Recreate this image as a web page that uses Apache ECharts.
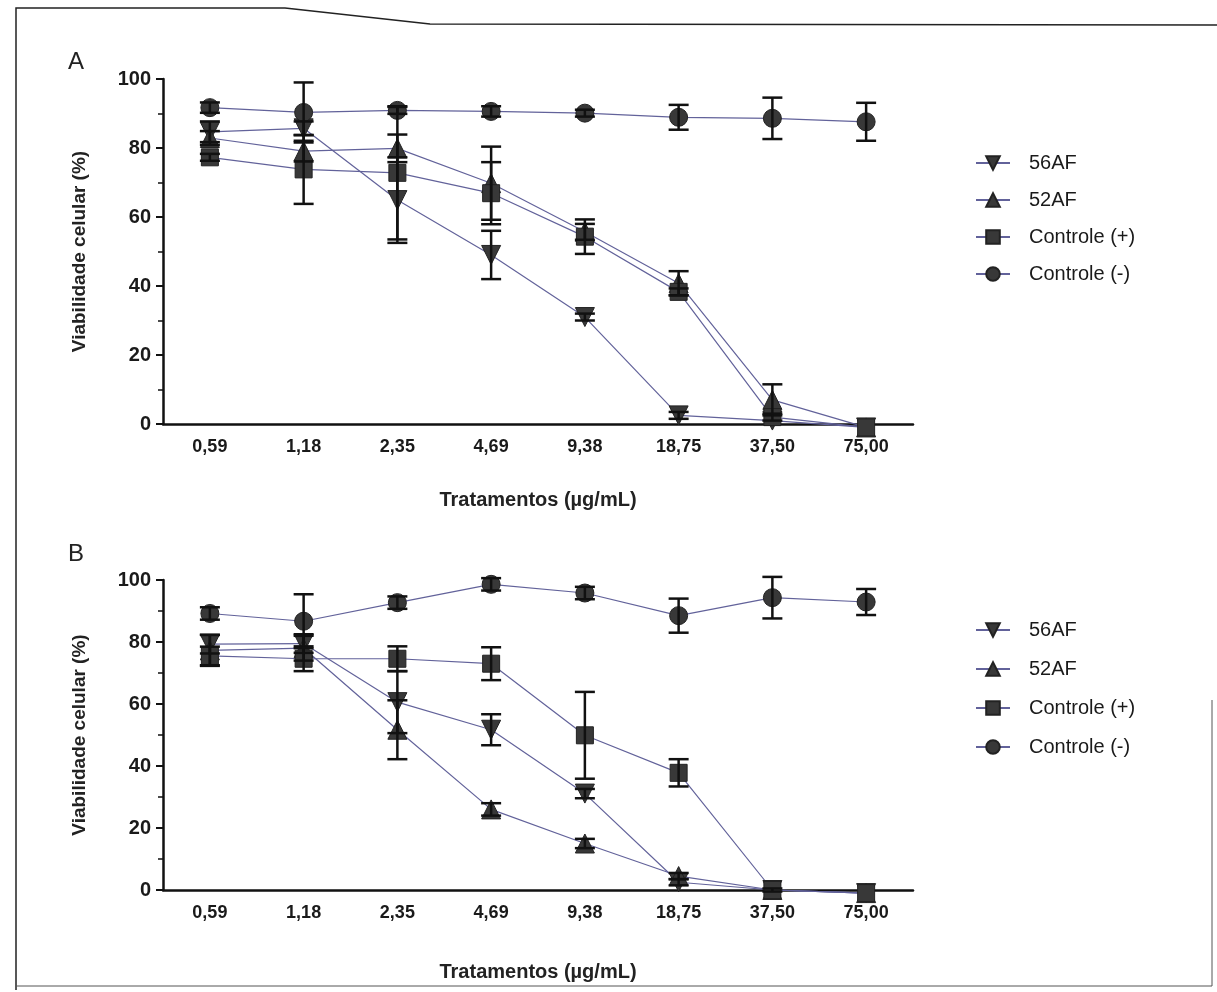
<!DOCTYPE html>
<html>
<head>
<meta charset="utf-8">
<script src="https://cdn.jsdelivr.net/npm/echarts@6/dist/echarts.min.js"></script>
<style>html,body{margin:0;padding:0;background:#fff;}#c{width:1217px;height:992px;}</style>
</head>
<body>
<div id="c"></div>
<script>
const categories = ['0,59','1,18','2,35','4,69','9,38','18,75','37,50','75,00'];
const yTicks = [0, 20, 40, 60, 80, 100];
const seriesNames = ['56AF', '52AF', 'Controle (+)', 'Controle (-)'];

// Panel A
const a56 = [84.7, 85.7, 64.9, 49.0, 31.0, 2.5, 1.0, -1.0];
const a56Err = [3, 2, 12.4, 7, 1, 1, 0, 0];
const a52 = [82.9, 79.1, 79.9, 69.8, 55.7, 40.8, 7.0, -1.0];
const a52Err = [2, 3, 4, 10.6, 2.3, 3.5, 4.5, 0];
const aPos = [77.3, 73.8, 72.8, 66.9, 54.3, 38.3, 2.0, -1.0];
const aPosErr = [1, 10, 19.3, 9, 5, 1, 1, 0];
const aNeg = [91.7, 90.3, 90.9, 90.6, 90.1, 88.9, 88.6, 87.6];
const aNegErr = [1.5, 8.7, 1, 1.5, 1, 3.6, 6, 5.5];

// Panel B
const b56 = [79.3, 79.5, 60.6, 51.7, 31.1, 2.5, 0, -1.0];
const b56Err = [3, 3, 10, 5, 1.5, 1, 0, 0];
const b52 = [77.3, 78.0, 51.7, 26.0, 15.0, 4.5, 0, -1.0];
const b52Err = [5, 4, 9.5, 2, 1.5, 1, 0, 0];
const bPos = [75.5, 74.6, 74.6, 73.0, 49.9, 37.8, 0, -1.0];
const bPosErr = [3, 4, 4, 5.3, 14, 4.4, 0.5, 0];
const bNeg = [89.2, 86.7, 92.7, 98.6, 95.8, 88.5, 94.3, 92.9];
const bNegErr = [2, 8.7, 2, 2, 2, 5.5, 6.7, 4.2];

const panels = [
  { vals: [a56, a52, aPos, aNeg], errs: [a56Err, a52Err, aPosErr, aNegErr] },
  { vals: [b56, b52, bPos, bNeg], errs: [b56Err, b52Err, bPosErr, bNegErr] }
];

const symbols = ['triangle', 'triangle', 'rect', 'circle'];
const rotates = [180, 0, 0, 0];
const sizes = [19, 19, 17, 18];
const lineColor = '#62629a';
const markColor = '#383838';
const font = 'Arial, "Liberation Sans", sans-serif';

const chart = echarts.init(document.getElementById('c'));

function errRender(params, api) {
  const x = api.value(0), y = api.value(1), e = api.value(2);
  if (!e) return null;
  const t = api.coord([x, y + e]);
  const b = api.coord([x, y - e]);
  const hw = 10;
  const st = { stroke: '#111', lineWidth: 2.5 };
  return {
    type: 'group',
    children: [
      { type: 'line', shape: { x1: t[0], y1: t[1], x2: b[0], y2: b[1] }, style: st },
      { type: 'line', shape: { x1: t[0] - hw, y1: t[1], x2: t[0] + hw, y2: t[1] }, style: st },
      { type: 'line', shape: { x1: b[0] - hw, y1: b[1], x2: b[0] + hw, y2: b[1] }, style: st }
    ]
  };
}

const grids = [
  { left: 163, width: 750, top: 79, height: 345 },
  { left: 163, width: 750, top: 580, height: 310 }
];

const xAxes = grids.map((g, i) => ({
  type: 'category', gridIndex: i, data: categories, boundaryGap: true,
  name: 'Tratamentos (µg/mL)', nameLocation: 'middle', nameGap: i === 0 ? 66 : 72,
  nameTextStyle: { fontFamily: font, fontSize: 20, fontWeight: 'bold', color: '#222' },
  axisLine: { lineStyle: { color: '#111', width: 2.5 } },
  axisTick: { alignWithLabel: true, length: 7, lineStyle: { color: '#111', width: 2 } },
  axisLabel: { fontFamily: font, fontSize: 18, fontWeight: 'bold', color: '#1a1a1a', margin: 14 },
  splitLine: { show: false }
}));

const yAxes = grids.map((g, i) => ({
  type: 'value', gridIndex: i, min: 0, max: 100, interval: 20,
  name: 'Viabilidade celular (%)', nameLocation: 'middle', nameGap: 74, nameRotate: 90,
  nameTextStyle: { fontFamily: font, fontSize: 19, fontWeight: 'bold', color: '#222' },
  axisLine: { show: true, lineStyle: { color: '#111', width: 2.5 } },
  axisTick: { show: true, length: 7, lineStyle: { color: '#111', width: 2 } },
  minorTick: { show: true, splitNumber: 2, length: 5, lineStyle: { color: '#111', width: 1.5 } },
  axisLabel: { fontFamily: font, fontSize: 20, fontWeight: 'bold', color: '#1a1a1a', margin: 12,
    formatter: v => yTicks.includes(v) ? String(v) : '' },
  splitLine: { show: false }
}));

const series = [];
panels.forEach((p, gi) => {
  p.vals.forEach((vals, si) => {
    series.push({
      name: seriesNames[si], type: 'line', xAxisIndex: gi, yAxisIndex: gi,
      data: vals, clip: false, symbol: symbols[si], symbolRotate: rotates[si],
      symbolSize: sizes[si], showAllSymbol: true, z: 3,
      lineStyle: { color: lineColor, width: 1.2 },
      itemStyle: { color: markColor, borderColor: '#222', borderWidth: 1, opacity: 1 }
    });
  });
  p.vals.forEach((vals, si) => {
    series.push({
      type: 'custom', xAxisIndex: gi, yAxisIndex: gi, z: 4, clip: false,
      renderItem: errRender, silent: true,
      data: vals.map((v, k) => [k, v, p.errs[si][k]])
    });
  });
});

const legendBase = {
  orient: 'vertical', left: 970, itemWidth: 34, itemHeight: 17, itemGap: 17,
  textStyle: { fontFamily: font, fontSize: 20, color: '#1a1a1a', padding: [0, 0, 0, 14] },
  data: seriesNames, selectedMode: false
};

chart.setOption({
  animation: false,
  backgroundColor: '#fff',
  grid: grids,
  xAxis: xAxes,
  yAxis: yAxes,
  legend: [
    Object.assign({}, legendBase, { top: 148 }),
    Object.assign({}, legendBase, { top: 615, itemGap: 19 })
  ],
  graphic: [
    { type: 'text', left: 68, top: 50, style: { text: 'A', fontFamily: font, fontSize: 24, fill: '#222' } },
    { type: 'text', left: 68, top: 542, style: { text: 'B', fontFamily: font, fontSize: 24, fill: '#222' } },
    { type: 'polyline', shape: { points: [[16, 990], [16, 8], [285, 8], [430, 24], [1217, 25]] },
      style: { stroke: '#222', lineWidth: 1.5, fill: null } },
    { type: 'polyline', shape: { points: [[16, 986], [1212, 986], [1212, 700]] },
      style: { stroke: '#555', lineWidth: 1, fill: null } }
  ],
  series: series
});
</script>
</body>
</html>
